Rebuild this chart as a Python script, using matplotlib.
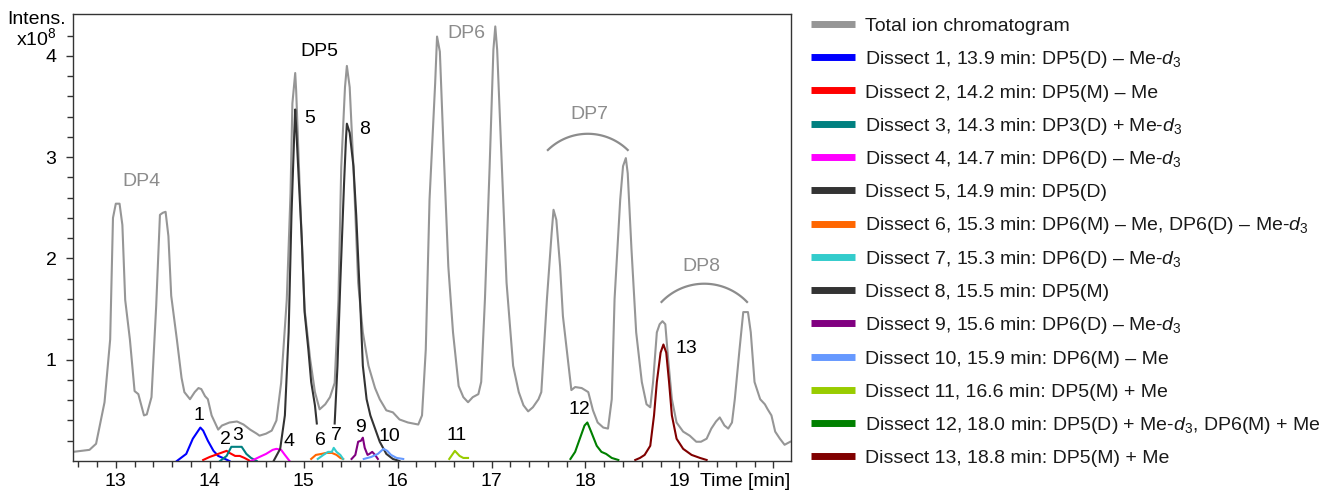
import numpy as np
import matplotlib
matplotlib.use("Agg")
import matplotlib.pyplot as plt
from matplotlib.lines import Line2D

plt.rcParams['font.family'] = ['Liberation Sans', 'DejaVu Sans']
plt.rcParams['mathtext.fontset'] = 'custom'
plt.rcParams['mathtext.rm'] = 'Liberation Sans'
plt.rcParams['mathtext.it'] = 'Liberation Sans:italic'
plt.rcParams['font.size'] = 14

# Total ion chromatogram: retention time [min], intensity [x1e8]
tic_time = [12.545, 12.72, 12.79, 12.88, 12.94, 12.97, 13.00, 13.04, 13.07, 13.10,
            13.15, 13.20, 13.24, 13.30, 13.33, 13.38, 13.43, 13.47, 13.50, 13.53,
            13.56, 13.59, 13.65, 13.70, 13.73, 13.79, 13.84, 13.88, 13.91, 13.95,
            13.98, 14.02, 14.09, 14.13, 14.21, 14.29, 14.36, 14.43, 14.50, 14.53,
            14.60, 14.66, 14.71, 14.76, 14.82, 14.86, 14.88, 14.91, 14.92, 14.95,
            14.98, 15.01, 15.07, 15.12, 15.17, 15.23, 15.28, 15.33, 15.37, 15.40,
            15.44, 15.46, 15.49, 15.53, 15.58, 15.63, 15.69, 15.76, 15.81, 15.88,
            15.95, 16.02, 16.11, 16.22, 16.26, 16.30, 16.34, 16.40, 16.42, 16.45,
            16.49, 16.54, 16.59, 16.65, 16.70, 16.75, 16.80, 16.86, 16.89, 16.93,
            16.98, 17.02, 17.04, 17.06, 17.11, 17.16, 17.23, 17.29, 17.34, 17.39,
            17.44, 17.50, 17.53, 17.59, 17.64, 17.66, 17.69, 17.73, 17.76, 17.82,
            17.85, 17.89, 17.96, 18.03, 18.08, 18.13, 18.19, 18.24, 18.28, 18.31,
            18.37, 18.40, 18.43, 18.45, 18.49, 18.54, 18.60, 18.65, 18.69, 18.72,
            18.76, 18.79, 18.82, 18.85, 18.88, 18.92, 18.97, 19.04, 19.11, 19.18,
            19.23, 19.29, 19.34, 19.39, 19.43, 19.48, 19.52, 19.56, 19.59, 19.64,
            19.68, 19.73, 19.76, 19.80, 19.86, 19.91, 19.94, 19.98, 20.02, 20.07,
            20.12, 20.18]
tic_int = [0.09, 0.11, 0.17, 0.58, 1.20, 2.40, 2.54, 2.54, 2.33, 1.59,
           1.20, 0.69, 0.66, 0.45, 0.46, 0.63, 1.53, 2.43, 2.45, 2.46,
           2.22, 1.63, 1.20, 0.82, 0.68, 0.61, 0.68, 0.72, 0.71, 0.64,
           0.61, 0.45, 0.31, 0.35, 0.38, 0.39, 0.36, 0.31, 0.27, 0.25,
           0.27, 0.30, 0.40, 0.77, 1.59, 2.64, 3.53, 3.83, 3.66, 2.90,
           2.18, 1.50, 1.00, 0.68, 0.51, 0.56, 0.63, 0.77, 1.59, 2.90,
           3.69, 3.90, 3.69, 2.90, 1.76, 1.27, 0.94, 0.72, 0.61, 0.50,
           0.48, 0.41, 0.38, 0.36, 0.45, 1.10, 2.58, 3.73, 4.19, 4.04,
           3.07, 1.92, 1.27, 0.74, 0.63, 0.58, 0.63, 0.66, 0.78, 1.60,
           2.91, 4.06, 4.29, 4.06, 2.91, 1.76, 0.94, 0.68, 0.55, 0.49,
           0.53, 0.61, 0.68, 1.60, 2.25, 2.48, 2.38, 1.92, 1.43, 0.94,
           0.70, 0.73, 0.72, 0.68, 0.50, 0.38, 0.33, 0.32, 0.61, 1.60,
           2.58, 2.91, 2.99, 2.84, 2.09, 1.27, 0.78, 0.56, 0.53, 0.78,
           1.27, 1.35, 1.38, 1.35, 1.01, 0.61, 0.38, 0.29, 0.25, 0.19,
           0.19, 0.22, 0.32, 0.39, 0.43, 0.35, 0.32, 0.38, 0.61, 1.10,
           1.47, 1.47, 1.27, 0.78, 0.61, 0.56, 0.51, 0.45, 0.29, 0.22,
           0.16, 0.19]

# Dissected ion traces
d1_t = [13.65, 13.75, 13.82, 13.90, 13.93, 13.98, 14.04, 14.09, 14.14, 14.21]
d1_y = [0.00, 0.07, 0.22, 0.33, 0.30, 0.20, 0.10, 0.05, 0.03, 0.00]
d2_t = [13.93, 14.00, 14.09, 14.18, 14.21, 14.27, 14.32, 14.37, 14.43]
d2_y = [0.01, 0.04, 0.07, 0.10, 0.08, 0.05, 0.05, 0.03, 0.00]
d3_t = [14.11, 14.18, 14.23, 14.30, 14.34, 14.39, 14.44, 14.50]
d3_y = [0.00, 0.05, 0.14, 0.14, 0.14, 0.07, 0.03, 0.00]
d4_t = [14.44, 14.53, 14.60, 14.67, 14.71, 14.76, 14.80, 14.85]
d4_y = [0.00, 0.04, 0.07, 0.11, 0.12, 0.11, 0.06, 0.00]
d5_t = [14.68, 14.75, 14.80, 14.84, 14.87, 14.90, 14.91, 14.92, 14.95, 14.98,
        15.01, 15.05, 15.08, 15.12, 15.14]
d5_y = [0.00, 0.12, 0.45, 1.27, 2.42, 3.24, 3.47, 3.30, 2.74, 2.19,
        1.47, 1.10, 0.78, 0.55, 0.37]
d6_t = [15.08, 15.13, 15.19, 15.24, 15.30, 15.35, 15.39, 15.42]
d6_y = [0.02, 0.06, 0.07, 0.08, 0.08, 0.06, 0.03, 0.02]
d7_t = [15.15, 15.21, 15.26, 15.30, 15.32, 15.35, 15.39, 15.42]
d7_y = [0.02, 0.06, 0.09, 0.09, 0.13, 0.09, 0.06, 0.02]
d8_t = [15.33, 15.36, 15.39, 15.43, 15.45, 15.46, 15.49, 15.53, 15.56, 15.60,
        15.63, 15.67, 15.71, 15.76, 15.81, 15.88, 15.95, 16.02]
d8_y = [0.37, 0.94, 1.76, 2.74, 3.17, 3.33, 3.24, 2.91, 2.42, 1.60,
        0.94, 0.61, 0.45, 0.32, 0.19, 0.07, 0.02, 0.00]
d9_t = [15.51, 15.55, 15.58, 15.61, 15.63, 15.65, 15.68, 15.70, 15.73, 15.76, 15.79]
d9_y = [0.02, 0.06, 0.19, 0.20, 0.23, 0.13, 0.06, 0.07, 0.09, 0.06, 0.02]
d10_t = [15.64, 15.72, 15.79, 15.85, 15.89, 15.93, 15.99, 16.06]
d10_y = [0.02, 0.04, 0.07, 0.12, 0.10, 0.06, 0.03, 0.02]
d11_t = [16.55, 16.61, 16.66, 16.70, 16.75]
d11_y = [0.02, 0.10, 0.05, 0.03, 0.03]
d12_t = [17.84, 17.89, 17.94, 17.99, 18.02, 18.06, 18.12, 18.17, 18.22, 18.28, 18.35]
d12_y = [0.02, 0.09, 0.22, 0.35, 0.38, 0.29, 0.15, 0.09, 0.07, 0.03, 0.01]
d13_t = [18.53, 18.58, 18.63, 18.69, 18.73, 18.76, 18.80, 18.83, 18.86, 18.89,
         18.92, 18.97, 19.04, 19.13, 19.22, 19.29]
d13_y = [0.01, 0.03, 0.06, 0.15, 0.45, 0.78, 1.07, 1.15, 1.07, 0.78,
         0.45, 0.22, 0.12, 0.06, 0.03, 0.01]

dissect_t = [d1_t, d2_t, d3_t, d4_t, d5_t, d6_t, d7_t, d8_t, d9_t, d10_t, d11_t, d12_t, d13_t]
dissect_y = [d1_y, d2_y, d3_y, d4_y, d5_y, d6_y, d7_y, d8_y, d9_y, d10_y, d11_y, d12_y, d13_y]

dissect_colors = ['#0000ff', '#ff0000', '#008080', '#ff00ff', '#333333', '#ff6600', '#33cccc',
                  '#333333', '#800080', '#6699ff', '#99cc00', '#008000', '#800000']
dissect_labels = [
    r'Dissect 1, 13.9 min: DP5(D) – Me-$d_3$',
    r'Dissect 2, 14.2 min: DP5(M) – Me',
    r'Dissect 3, 14.3 min: DP3(D) + Me-$d_3$',
    r'Dissect 4, 14.7 min: DP6(D) – Me-$d_3$',
    r'Dissect 5, 14.9 min: DP5(D)',
    r'Dissect 6, 15.3 min: DP6(M) – Me, DP6(D) – Me-$d_3$',
    r'Dissect 7, 15.3 min: DP6(D) – Me-$d_3$',
    r'Dissect 8, 15.5 min: DP5(M)',
    r'Dissect 9, 15.6 min: DP6(D) – Me-$d_3$',
    r'Dissect 10, 15.9 min: DP6(M) – Me',
    r'Dissect 11, 16.6 min: DP5(M) + Me',
    r'Dissect 12, 18.0 min: DP5(D) + Me-$d_3$, DP6(M) + Me',
    r'Dissect 13, 18.8 min: DP5(M) + Me',
]
tic_color = '#969696'

fig = plt.figure(figsize=(13.26, 4.9), dpi=100)
ax = fig.add_axes([0.0551, 0.0592, 0.5412, 0.9117])

ax.plot(tic_time, tic_int, color=tic_color, lw=1.5)
for t, y, c in zip(dissect_t, dissect_y, dissect_colors):
    ax.plot(t, y, color=c, lw=1.5)

ax.set_xlim(12.545, 20.185)
ax.set_ylim(0, 4.41)

# axis styling
for sp in ax.spines.values():
    sp.set_color('#333333')
    sp.set_linewidth(1.0)
ax.set_xticks([13, 14, 15, 16, 17, 18, 19, 20])
ax.set_xticklabels(['13', '14', '15', '16', '17', '18', '19', ''])
ax.set_xticks(np.arange(12.6, 20.2, 0.2), minor=True)
ax.set_yticks([1, 2, 3, 4])
ax.set_yticks(np.arange(0.2, 4.4, 0.2), minor=True)
ax.tick_params(which='both', direction='out', color='#333333', width=1.0, labelsize=14)
ax.tick_params(axis='x', which='major', length=5, pad=4)
ax.tick_params(axis='x', which='minor', length=4)
ax.tick_params(axis='y', which='major', length=5, pad=7)
ax.tick_params(axis='y', which='minor', length=4)

# x axis title sits where the "20" label would be
ax.text(1.0, -0.056, 'Time [min]', transform=ax.transAxes, ha='right', va='baseline', fontsize=14)
fig.text(0.0498, 0.951, 'Intens.', ha='right', va='baseline', fontsize=14)
fig.text(0.043, 0.907, r'x10$^8$', ha='right', va='baseline', fontsize=14)

# peak numbers
num_x = [13.89, 14.17, 14.30, 14.84, 15.06, 15.18, 15.35, 15.65, 15.60, 15.91, 16.63, 17.94, 19.07]
num_y = [0.45, 0.21, 0.25, 0.19, 3.38, 0.20, 0.25, 3.27, 0.33, 0.24, 0.25, 0.51, 1.11]
for i, (x, y) in enumerate(zip(num_x, num_y)):
    ax.text(x, y, str(i + 1), ha='center', va='center', fontsize=14)

# DP group labels
ax.text(13.27, 2.76, 'DP4', color='#8c8c8c', ha='center', va='center', fontsize=14)
ax.text(15.17, 4.04, 'DP5', color='black', ha='center', va='center', fontsize=14)
ax.text(16.73, 4.22, 'DP6', color='#8c8c8c', ha='center', va='center', fontsize=14)
ax.text(18.04, 3.42, 'DP7', color='#8c8c8c', ha='center', va='center', fontsize=14)
ax.text(19.23, 1.92, 'DP8', color='#8c8c8c', ha='center', va='center', fontsize=14)


def bracket(ax, x0, x1, y_end, y_top, **kw):
    # round arc over a group of peaks, circular in screen space
    sx, sy = ax.transData.transform((1, 1)) - ax.transData.transform((0, 0))
    c = (x1 - x0) / 2 * sx
    s = (y_top - y_end) * sy
    r = (c ** 2 + s ** 2) / (2 * s)
    phi = np.linspace(-np.arcsin(c / r), np.arcsin(c / r), 80)
    xs = (x0 + x1) / 2 + r * np.sin(phi) / sx
    ys = y_end + (r * np.cos(phi) - (r - s)) / sy
    ax.plot(xs, ys, color='#8c8c8c', lw=1.6, **kw)


bracket(ax, 17.60, 18.45, 3.07, 3.23)
bracket(ax, 18.81, 19.72, 1.57, 1.75)

# legend, drawn row by row so the subscripts do not change the spacing
leg_labels = ['Total ion chromatogram'] + dissect_labels
leg_colors = [tic_color] + dissect_colors
W, H = 1326, 490
for i, (lab, col) in enumerate(zip(leg_labels, leg_colors)):
    yc = 24 + i * 33.25
    fig.add_artist(Line2D([811 / W, 855 / W], [1 - yc / H, 1 - yc / H],
                          transform=fig.transFigure, color=col, lw=5, solid_capstyle='butt'))
    fig.text(865 / W, 1 - (yc + 7) / H, lab, ha='left', va='baseline', fontsize=14,
             color='#1a1a1a')

fig.savefig('out.png', dpi=100)
